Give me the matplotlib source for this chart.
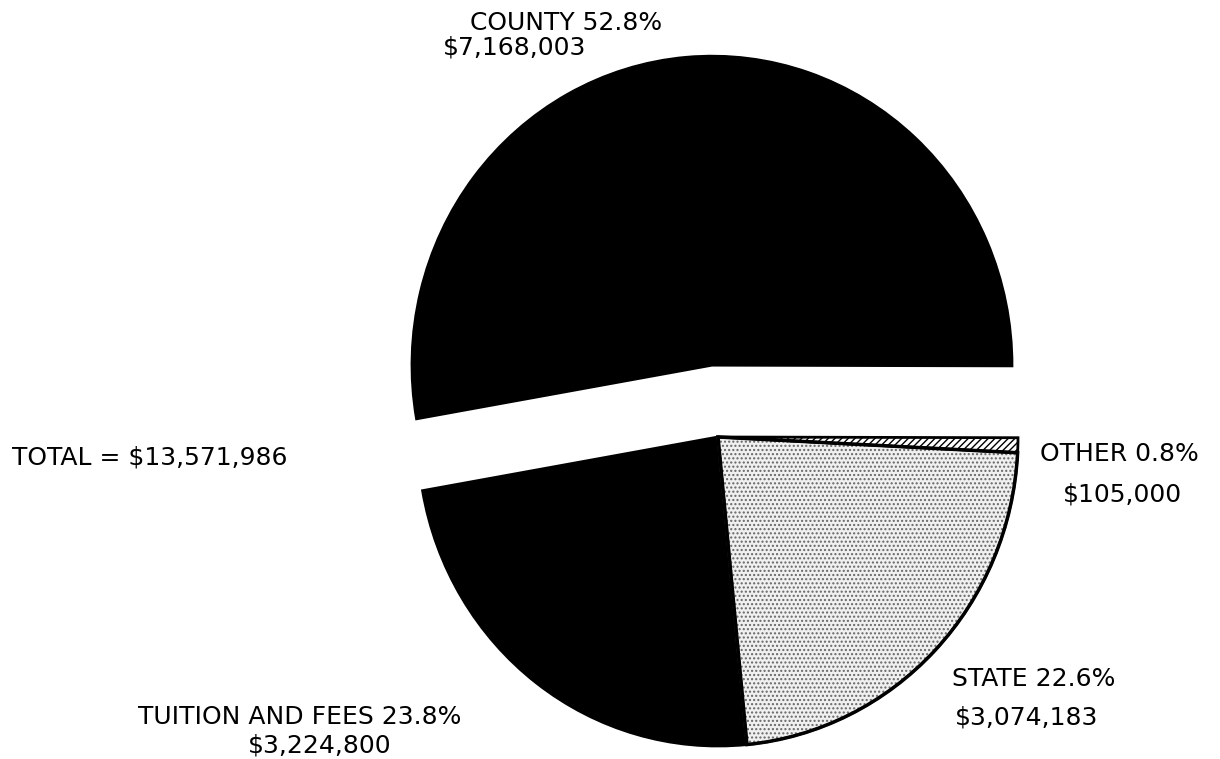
import matplotlib
matplotlib.use("Agg")
import matplotlib.pyplot as plt
from matplotlib.patches import Wedge

# Revenue sources, in the order the wedges are drawn (counter-clockwise)
sources = ["TUITION AND FEES", "STATE", "OTHER", "COUNTY"]
amounts = [3224800, 3074183, 105000, 7168003]
percents = ["23.8%", "22.6%", "0.8%", "52.8%"]
amount_labels = ["$3,224,800", "$3,074,183", "$105,000", "$7,168,003"]
total_label = "TOTAL = $13,571,986"

W, H = 1220, 759
STRETCH = 1.03  # the scanned pie is a touch taller than wide

fig = plt.figure(figsize=(W / 100, H / 100), dpi=100)
ax = fig.add_axes([0, 0, 1, 1])

# pixel -> figure fraction, for the labels
def fpos(x, y):
    return x / W, 1 - y / H

wedges, _ = ax.pie(
    amounts,
    center=(718, (H - 437) / STRETCH),
    radius=300,
    startangle=-170,
    counterclock=True,
    explode=[0, 0, 0, 70],
    colors=["black", "#f0f0f0", "white", "black"],
    wedgeprops=dict(edgecolor="black", linewidth=2),
    frame=True,
)
# pie forces an equal aspect; undo it so the axes fill the figure
ax.set_aspect("auto")
ax.set_position([0, 0, 1, 1])
ax.set_xlim(0, W)
ax.set_ylim(0, H / STRETCH)
ax.axis("off")

wedges[1].set_hatch("....")
wedges[1].set_edgecolor("#666666")
wedges[2].set_hatch("/////")
# state outline in black over the stipple
ax.add_patch(Wedge(wedges[1].center, wedges[1].r, wedges[1].theta1, wedges[1].theta2,
                   facecolor="none", edgecolor="black", linewidth=2.5))

font = dict(family="DejaVu Sans", fontsize=18, color="black", va="center", ha="left")

fig.text(*fpos(470, 23), f"{sources[3]} {percents[3]}", **font)
fig.text(*fpos(443, 47), amount_labels[3], **font)

fig.text(*fpos(1040, 454), f"{sources[2]} {percents[2]}", **font)
fig.text(*fpos(1063, 494), amount_labels[2], **font)

fig.text(*fpos(952, 679), f"{sources[1]} {percents[1]}", **font)
fig.text(*fpos(955, 717), amount_labels[1], **font)

fig.text(*fpos(138, 717), f"{sources[0]} {percents[0]}", **font)
fig.text(*fpos(248, 746), amount_labels[0], **font)

fig.text(*fpos(12, 457), total_label, **font)

fig.savefig("out.png", dpi=100)
